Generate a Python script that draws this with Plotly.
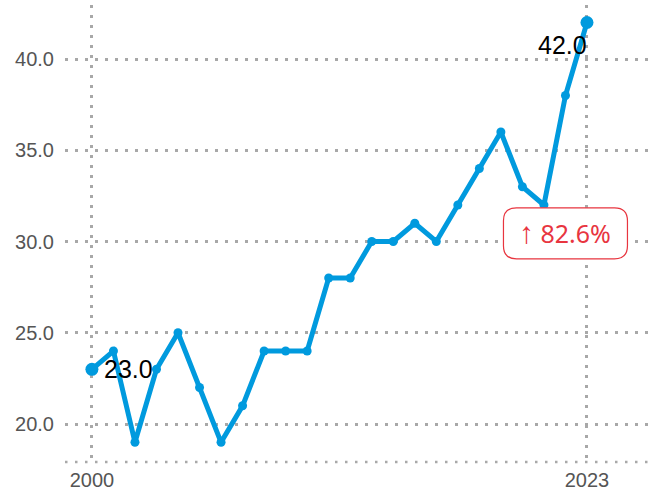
import plotly.graph_objects as go

years = list(range(2000, 2024))
values = [23, 24, 19, 23, 25, 22, 19, 21, 24, 24, 24, 28, 28, 30, 30, 31, 30, 32, 34, 36, 33, 32, 38, 42]
y_ticks = [20, 25, 30, 35, 40]
x_ticks = [2000, 2023]
change_label = "<span style='font-size:30px;font-family:Liberation Sans'>↑</span> 82.6%"

BLUE = "#009ade"
RED = "#e8353f"
GRID = "#a8a8a8"
FONT = "Liberation Sans, Arial, sans-serif"
BOX_FONT = "Noto Sans, Open Sans, sans-serif"
DASH = "2.5px,7.5px"

sizes = [13] + [9] * (len(values) - 2) + [13]

fig = go.Figure()
fig.add_trace(go.Scatter(
    x=years, y=values, mode="lines+markers",
    line=dict(color=BLUE, width=5),
    marker=dict(color=BLUE, size=sizes, opacity=1, line=dict(width=0)),
    showlegend=False, hoverinfo="skip",
))

# rounded box around the change label
w, h, r = 124, 51, 13
hw, hh = w / 2, h / 2
path = (f"M {-hw + r},{-hh} L {hw - r},{-hh} Q {hw},{-hh} {hw},{-hh + r} "
        f"L {hw},{hh - r} Q {hw},{hh} {hw - r},{hh} L {-hw + r},{hh} "
        f"Q {-hw},{hh} {-hw},{hh - r} L {-hw},{-hh + r} Q {-hw},{-hh} {-hw + r},{-hh} Z")
fig.add_shape(type="path", xref="x", yref="y", xsizemode="pixel", ysizemode="pixel",
              xanchor=2022, yanchor=30.45, path=path,
              line=dict(color=RED, width=1.2), fillcolor="white", layer="above")

# bottom dotted border
fig.add_shape(type="line", xref="paper", yref="paper", x0=0, x1=1, y0=0, y1=0,
              line=dict(color=GRID, width=2.5, dash=DASH), layer="below")

fig.add_annotation(x=2022, y=30.45, text=change_label, showarrow=False,
                   font=dict(color=RED, size=25, family=BOX_FONT), xanchor="center", yanchor="middle")
fig.add_annotation(x=years[0], y=values[0], text=f"{values[0]:.1f}", showarrow=False,
                   font=dict(color="black", size=25, family=FONT), xanchor="left", yanchor="middle",
                   xshift=10)
fig.add_annotation(x=years[-1], y=values[-1], text=f"{values[-1]:.1f}", showarrow=False,
                   font=dict(color="black", size=25, family=FONT), xanchor="right", yanchor="top",
                   yshift=-6, xshift=2)

fig.update_layout(
    width=661, height=496,
    margin=dict(l=65, r=6, t=5, b=34),
    plot_bgcolor="white", paper_bgcolor="white",
    font=dict(family=FONT, size=20, color="#555555"),
    xaxis=dict(range=[1998.75, 2026.16], tickvals=x_ticks, ticktext=[str(t) for t in x_ticks],
               showgrid=True, gridcolor=GRID, gridwidth=2.5, griddash=DASH,
               zeroline=False, showline=False, ticklabelstandoff=4),
    yaxis=dict(range=[17.92, 42.96], tickvals=y_ticks, ticktext=[f"{t:.1f}" for t in y_ticks],
               showgrid=True, gridcolor=GRID, gridwidth=2.5, griddash=DASH,
               zeroline=False, showline=False, ticklabelstandoff=10),
)

fig.write_html("out.html", config={"displayModeBar": False},
               post_script="document.body.style.margin='0px';")
